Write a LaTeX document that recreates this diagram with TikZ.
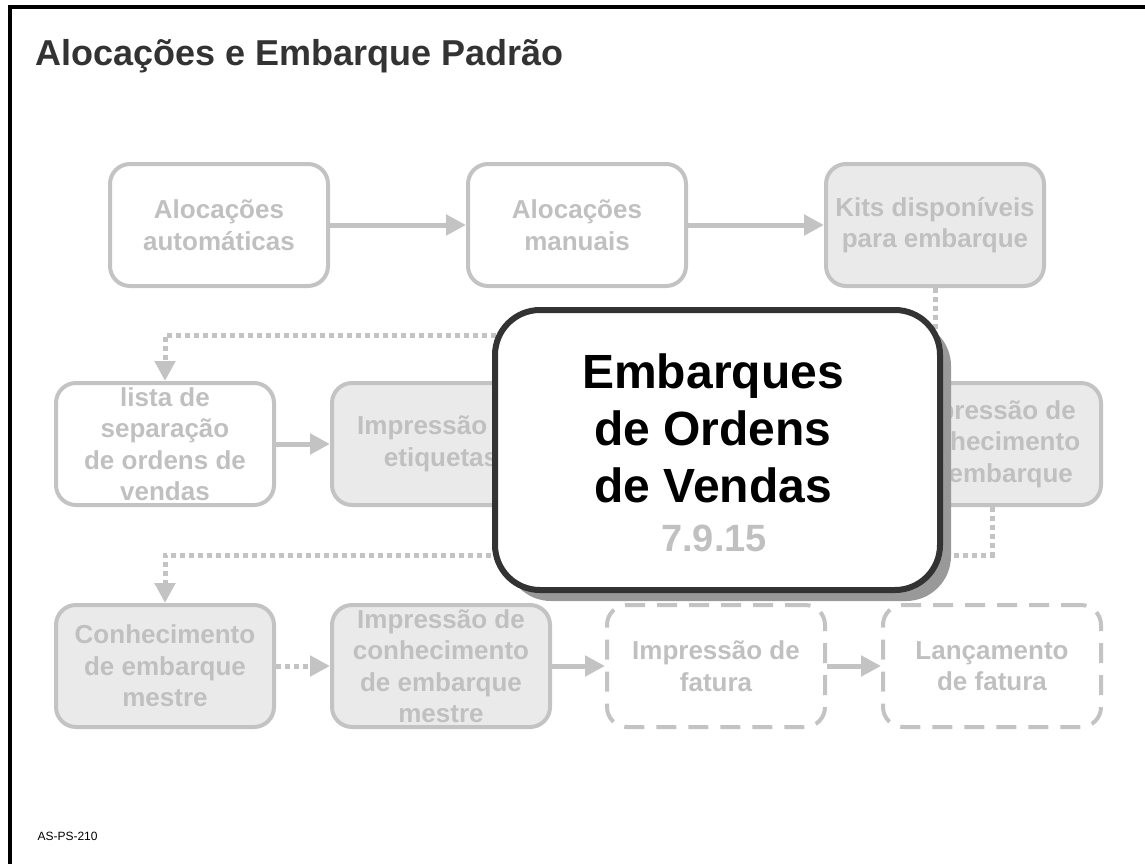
\documentclass[tikz,border=0pt]{standalone}
\usepackage{fontspec}
\setmainfont{Liberation Sans}
\usetikzlibrary{arrows.meta,shadows}
\definecolor{boxgray}{HTML}{C3C3C3}
\definecolor{boxfill}{HTML}{EAEAEA}
\definecolor{txtgray}{HTML}{C0C0C0}
\definecolor{darkline}{HTML}{333333}
\definecolor{shadowgray}{HTML}{999999}
\tikzset{
  stepbox/.style={draw=boxgray, line width=4pt, rounded corners=20pt,
    minimum width=218pt, minimum height=122pt, inner sep=0pt, align=center,
    text=txtgray, font=\fontsize{26}{31.5}\selectfont\bfseries},
  filledbox/.style={stepbox, fill=boxfill},
  pendbox/.style={stepbox, dash pattern=on 20pt off 12pt},
  flow/.style={draw=boxgray, line width=5pt, -{Triangle[length=20pt,width=20pt]}},
  dotflow/.style={flow, dash pattern=on 5pt off 4pt},
}
\begin{document}
\begin{tikzpicture}[x=1pt, y=-1pt]
    \useasboundingbox (0,0) rectangle (1145,864);
    % frame and texts
    \draw[line width=4pt] (10,864) -- (10,7.5) -- (1145,7.5);
    \node[anchor=base west, text=darkline, font=\fontsize{36}{42}\selectfont\bfseries] (title) at (32,66) {Alocações e Embarque Padrão};
    \node[anchor=base west, font=\fontsize{12}{14}\selectfont] (code) at (34,840) {AS-PS-210};
    % first row
    \node[stepbox] (autoalloc) at (219,225) {Alocações\\automáticas};
    \node[stepbox] (manalloc) at (577,225) {Alocações\\manuais};
    \node[filledbox] (kits) at (935,225) {Kits disponíveis\\para embarque};
    % second row
    \node[stepbox] (picklist) at (165,444) {lista de\\separação\\de ordens de\\vendas};
    \node[filledbox] (labels) at (441,444) {Impressão de\\etiquetas};
    \node[filledbox] (bolprint) at (992,444) {Impressão de\\conhecimento\\de embarque};
    % third row
    \node[filledbox] (masterbol) at (165,666) {Conhecimento\\de embarque\\mestre};
    \node[filledbox] (masterprint) at (441,666) {Impressão de\\conhecimento\\de embarque\\mestre};
    \node[pendbox] (invprint) at (716,666) {Impressão de\\fatura};
    \node[pendbox] (invpost) at (992,666) {Lançamento\\de fatura};
    % connectors
    \coordinate (bend1) at (935,335);
    \coordinate (bend2) at (992,555);
    \draw[flow] (autoalloc) -- (manalloc);
    \draw[flow] (manalloc) -- (kits);
    \draw[dotflow] (kits.south) -- (bend1) -| (picklist.north);
    \draw[flow] (picklist) -- (labels);
    \draw[dotflow] (bolprint.south) -- (bend2) -| (masterbol.north);
    \draw[dotflow] (masterbol) -- (masterprint);
    \draw[flow] (masterprint) -- (invprint);
    \draw[flow] (invprint) -- (invpost);
    % topic box on top
    \node[draw=darkline, line width=6pt, fill=white, rounded corners=45pt,
      minimum width=445pt, minimum height=280pt,
      drop shadow={shadow xshift=11pt, shadow yshift=-11pt, fill=shadowgray, opacity=1}] (topic) at (717.5,450) {};
    \node[align=center, font=\fontsize{48}{57}\selectfont\bfseries] (topictext) at (713,428) {Embarques\\de Ordens\\de Vendas};
    \node[text=txtgray, font=\fontsize{38}{40}\selectfont\bfseries] (version) at (714,538) {7.9.15};
\end{tikzpicture}
\end{document}
